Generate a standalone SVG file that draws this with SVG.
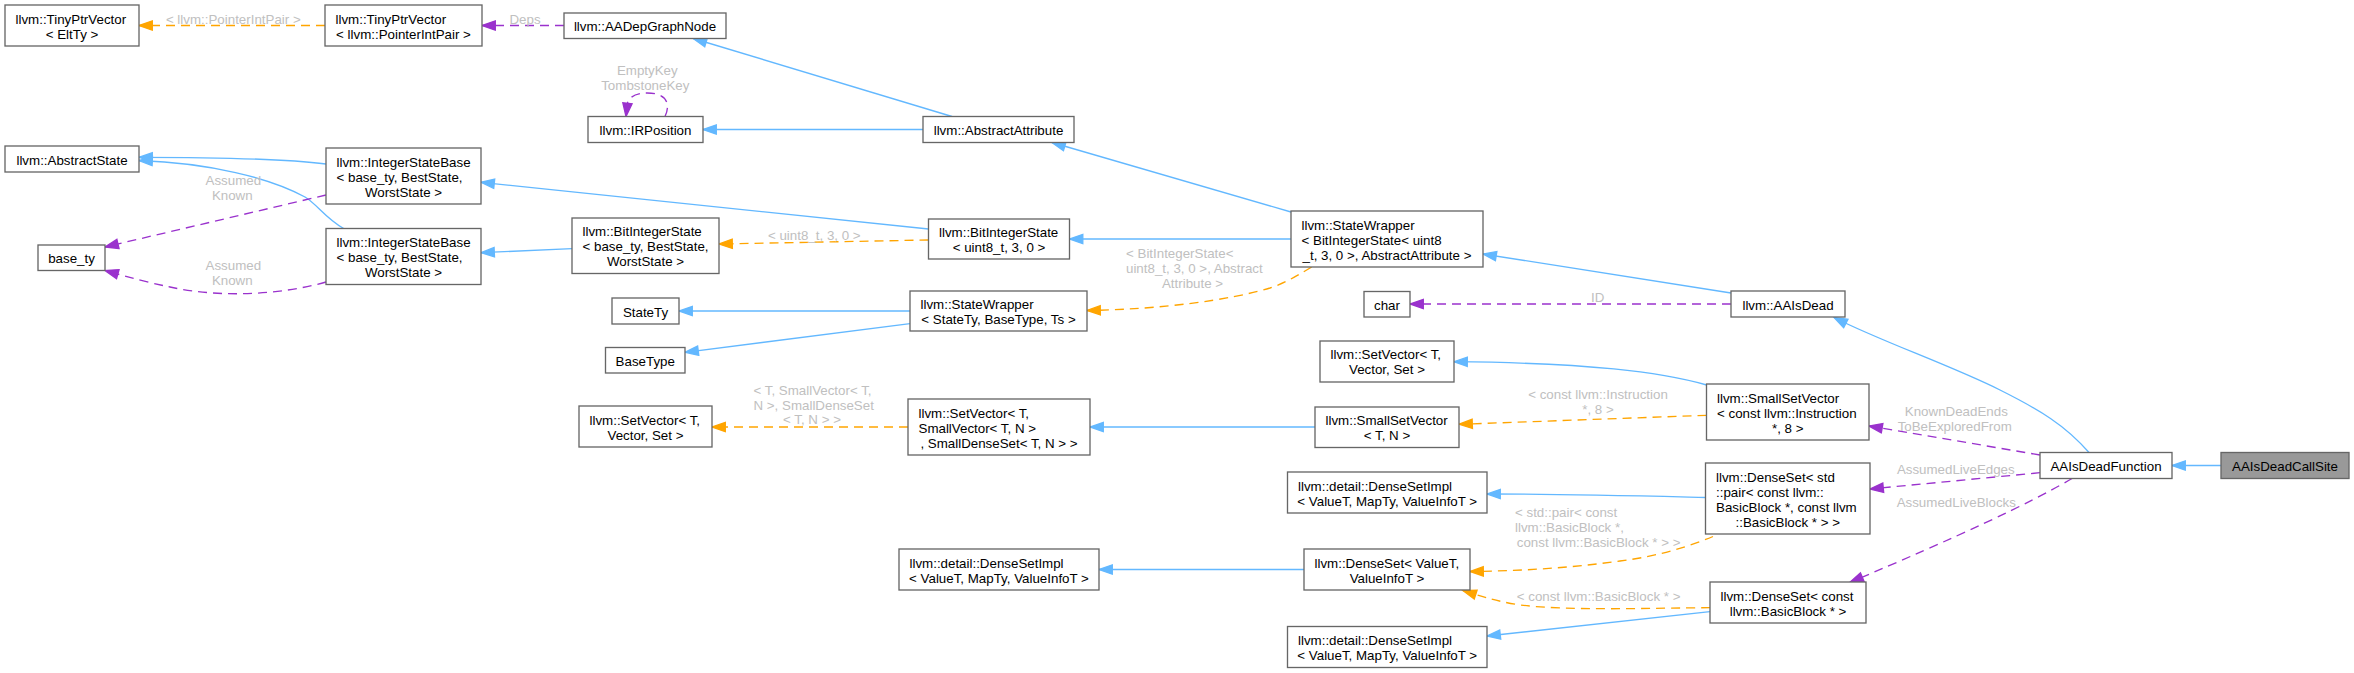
<svg xmlns="http://www.w3.org/2000/svg" width="2354" height="673" viewBox="0 0 2354 673">
<style>
.n rect{fill:#ffffff;stroke:#666666;stroke-width:1.33}
.cur rect{fill:#999999}
text{font-family:"Liberation Sans",Arial,Helvetica,sans-serif;font-size:13.33px;fill:#000000}
.m{text-anchor:middle}
.e path{fill:none;stroke-width:1.33}
.inh{stroke:#63b8ff}
.tpl{stroke:#ffa500;stroke-dasharray:9,6}
.use{stroke:#9a32cd;stroke-dasharray:9,6}
.e text{fill:#c0c0c0}
</style>
<defs>
<marker id="ab" viewBox="0 0 14 10" markerWidth="14" markerHeight="10" refX="13.3" refY="5" orient="auto" markerUnits="userSpaceOnUse" overflow="visible"><path d="M0,0.33L13.3,5L0,9.67z" fill="#63b8ff" stroke="#63b8ff" stroke-width="1.33" stroke-dasharray="none"/></marker>
<marker id="ao" viewBox="0 0 14 10" markerWidth="14" markerHeight="10" refX="13.3" refY="5" orient="auto" markerUnits="userSpaceOnUse" overflow="visible"><path d="M0,0.33L13.3,5L0,9.67z" fill="#ffa500" stroke="#ffa500" stroke-width="1.33" stroke-dasharray="none"/></marker>
<marker id="ap" viewBox="0 0 14 10" markerWidth="14" markerHeight="10" refX="13.3" refY="5" orient="auto" markerUnits="userSpaceOnUse" overflow="visible"><path d="M0,0.33L13.3,5L0,9.67z" fill="#9a32cd" stroke="#9a32cd" stroke-width="1.33" stroke-dasharray="none"/></marker>
</defs>
<rect x="0" y="0" width="2354" height="673" fill="#ffffff"/>
<g id="edges" class="e">
<path class="tpl" d="M325,25.5L139,25.5" marker-end="url(#ao)"/>
<text class="m" x="233.3" y="23.5">&lt; llvm::PointerIntPair &gt;</text>
<path class="use" d="M564,25.5L482,25.5" marker-end="url(#ap)"/>
<text class="m" x="525" y="23.5">Deps</text>
<path class="inh" d="M952,116.5L693.3,38.5" marker-end="url(#ab)"/>
<path class="inh" d="M923,129.5L703,129.5" marker-end="url(#ab)"/>
<path class="use" d="M665,116.5C670,106 669,93 647,93C636,93 629,97 627.5,103L626,116.5" marker-end="url(#ap)"/>
<text class="m" x="647.3" y="75">EmptyKey</text>
<text class="m" x="645.3" y="90">TombstoneKey</text>
<path class="tpl" d="M928.5,240L719,244" marker-end="url(#ao)"/>
<text class="m" x="814.3" y="239.5">&lt; uint8_t, 3, 0 &gt;</text>
<path class="inh" d="M928.5,229L481,182.3" marker-end="url(#ab)"/>
<path class="inh" d="M572,248.7L481,252.7" marker-end="url(#ab)"/>
<path class="inh" d="M326,164C290,159.5 230,157.3 139,157.3" marker-end="url(#ab)"/>
<path class="inh" d="M343.7,228.5C325,218 318,205 305,197C270,178 210,163 139,160.5" marker-end="url(#ab)"/>
<path class="use" d="M326,195L105,247" marker-end="url(#ap)"/>
<text class="m" x="233.3" y="185">Assumed</text>
<text class="m" x="232.3" y="200">Known</text>
<path class="use" d="M326,282C280,295 220,298 170,287C150,283 128,277 105,270.5" marker-end="url(#ap)"/>
<text class="m" x="233.3" y="269.5">Assumed</text>
<text class="m" x="232.3" y="284.5">Known</text>
<path class="inh" d="M1291,239L1069.5,239" marker-end="url(#ab)"/>
<path class="inh" d="M1291,212L1052,142.5" marker-end="url(#ab)"/>
<path class="tpl" d="M1311.7,267C1295,277 1285,283 1270,288C1230,300 1160,309.5 1087,310.5" marker-end="url(#ao)"/>
<text x="1126" y="257.5">&lt; BitIntegerState&lt;</text>
<text x="1126" y="272.5">uint8_t, 3, 0 &gt;, Abstract</text>
<text class="m" x="1192.5" y="287.5">Attribute &gt;</text>
<path class="inh" d="M1731,293L1483,254" marker-end="url(#ab)"/>
<path class="use" d="M1731,304L1410,304" marker-end="url(#ap)"/>
<text class="m" x="1597.7" y="301.5">ID</text>
<path class="inh" d="M1706.7,385C1660,372 1590,363 1454,361.7" marker-end="url(#ab)"/>
<path class="tpl" d="M1706.5,415.3L1459,424.3" marker-end="url(#ao)"/>
<text class="m" x="1598" y="399">&lt; const llvm::Instruction</text>
<text class="m" x="1598" y="414">*, 8 &gt;</text>
<path class="inh" d="M1315,427L1090,427" marker-end="url(#ab)"/>
<path class="tpl" d="M908,427L712,427" marker-end="url(#ao)"/>
<text x="753.5" y="394.5">&lt; T, SmallVector&lt; T,</text>
<text x="753.5" y="409.5">N &gt;, SmallDenseSet</text>
<text class="m" x="812" y="424">&lt; T, N &gt; &gt;</text>
<path class="inh" d="M2089,452.5C2065,425 2040,410 2000,390C1950,365 1880,341 1834,317.5" marker-end="url(#ab)"/>
<path class="use" d="M2040,455L1869,426" marker-end="url(#ap)"/>
<text class="m" x="1956.3" y="415.5">KnownDeadEnds</text>
<text class="m" x="1954.7" y="430.5">ToBeExploredFrom</text>
<path class="use" d="M2040,472.7L1870,489" marker-end="url(#ap)"/>
<text class="m" x="1955.8" y="474">AssumedLiveEdges</text>
<path class="use" d="M2072,478.5Q2010,515 1850,582.3" marker-end="url(#ap)"/>
<text class="m" x="1956.3" y="507">AssumedLiveBlocks</text>
<path class="inh" d="M2221,465.5L2172,465.5" marker-end="url(#ab)"/>
<path class="inh" d="M1705.5,497.5C1640,496 1560,494 1487,494" marker-end="url(#ab)"/>
<path class="tpl" d="M1713,536.5C1690,546 1660,556 1620,561C1570,568 1520,571 1470,571.5" marker-end="url(#ao)"/>
<text x="1515" y="516.5">&lt; std::pair&lt; const</text>
<text x="1515" y="531.5">llvm::BasicBlock *,</text>
<text class="m" x="1598.6" y="546.5">const llvm::BasicBlock * &gt; &gt;</text>
<path class="inh" d="M1304,569.5L1099,569.5" marker-end="url(#ab)"/>
<path class="tpl" d="M1710,607.7C1650,608 1570,611 1520,605C1500,602 1483,597 1463,590.5" marker-end="url(#ao)"/>
<text class="m" x="1598.6" y="600.5">&lt; const llvm::BasicBlock * &gt;</text>
<path class="inh" d="M1710,611.7L1487,636" marker-end="url(#ab)"/>
<path class="inh" d="M910,311L679,311" marker-end="url(#ab)"/>
<path class="inh" d="M910,323.7L685,352.3" marker-end="url(#ab)"/>
</g>
<g id="n_tinyptrvector_eltty" class="n"><rect x="5" y="5" width="134" height="41"/><text x="15.5" y="23.5">llvm::TinyPtrVector</text><text class="m" x="72" y="38.5">&lt; EltTy &gt;</text></g>
<g id="n_tinyptrvector_pointerintpair" class="n"><rect x="325" y="5" width="157" height="41"/><text x="335.5" y="23.5">llvm::TinyPtrVector</text><text class="m" x="403.5" y="38.5">&lt; llvm::PointerIntPair &gt;</text></g>
<g id="n_aadepgraphnode" class="n"><rect x="564" y="13" width="162" height="25.5"/><text class="m" x="645" y="31">llvm::AADepGraphNode</text></g>
<g id="n_irposition" class="n"><rect x="588" y="116.5" width="115" height="26"/><text class="m" x="645.5" y="135">llvm::IRPosition</text></g>
<g id="n_abstractattribute" class="n"><rect x="923" y="116.5" width="151" height="26"/><text class="m" x="998.5" y="135">llvm::AbstractAttribute</text></g>
<g id="n_abstractstate" class="n"><rect x="5" y="146" width="134" height="26"/><text class="m" x="72" y="164.5">llvm::AbstractState</text></g>
<g id="n_integerstatebase_1" class="n"><rect x="326" y="148" width="155" height="56"/><text x="336.5" y="166.5">llvm::IntegerStateBase</text><text x="336.5" y="181.5">&lt; base_ty, BestState,</text><text class="m" x="403.5" y="196.5">WorstState &gt;</text></g>
<g id="n_integerstatebase_2" class="n"><rect x="326" y="228.5" width="155" height="56"/><text x="336.5" y="247">llvm::IntegerStateBase</text><text x="336.5" y="262">&lt; base_ty, BestState,</text><text class="m" x="403.5" y="277">WorstState &gt;</text></g>
<g id="n_base_ty" class="n"><rect x="38" y="245" width="67" height="25.5"/><text class="m" x="71.5" y="263">base_ty</text></g>
<g id="n_bitintegerstate_base" class="n"><rect x="572" y="218" width="147" height="55.5"/><text x="582.5" y="235.5">llvm::BitIntegerState</text><text x="582.5" y="250.5">&lt; base_ty, BestState,</text><text class="m" x="645.5" y="265.5">WorstState &gt;</text></g>
<g id="n_bitintegerstate_uint8" class="n"><rect x="928.5" y="219" width="141" height="40"/><text x="939" y="236.5">llvm::BitIntegerState</text><text class="m" x="999" y="251.5">&lt; uint8_t, 3, 0 &gt;</text></g>
<g id="n_statewrapper_bis" class="n"><rect x="1291" y="211" width="192" height="56"/><text x="1301.5" y="229.5">llvm::StateWrapper</text><text x="1301.5" y="244.5">&lt; BitIntegerState&lt; uint8</text><text class="m" x="1387" y="259.5">_t, 3, 0 &gt;, AbstractAttribute &gt;</text></g>
<g id="n_statety" class="n"><rect x="612" y="298" width="67" height="26"/><text class="m" x="645.5" y="316.5">StateTy</text></g>
<g id="n_basetype" class="n"><rect x="605.5" y="347.5" width="79.5" height="25.5"/><text class="m" x="645.25" y="365.5">BaseType</text></g>
<g id="n_statewrapper_generic" class="n"><rect x="910" y="291" width="177" height="40"/><text x="920.5" y="308.5">llvm::StateWrapper</text><text class="m" x="998.5" y="323.5">&lt; StateTy, BaseType, Ts &gt;</text></g>
<g id="n_char" class="n"><rect x="1364" y="291.5" width="46" height="25.5"/><text class="m" x="1387" y="309.5">char</text></g>
<g id="n_aaisdead" class="n"><rect x="1731" y="291" width="114" height="26"/><text class="m" x="1788" y="309.5">llvm::AAIsDead</text></g>
<g id="n_setvector_right" class="n"><rect x="1320" y="341" width="134" height="41"/><text x="1330.5" y="359">llvm::SetVector&lt; T,</text><text class="m" x="1387" y="374">Vector, Set &gt;</text></g>
<g id="n_smallsetvector_instr" class="n"><rect x="1706.5" y="384" width="162.5" height="56"/><text x="1717" y="402.5">llvm::SmallSetVector</text><text x="1717" y="417.5">&lt; const llvm::Instruction</text><text class="m" x="1787.75" y="432.5">*, 8 &gt;</text></g>
<g id="n_smallsetvector_tn" class="n"><rect x="1315" y="407" width="144" height="40.5"/><text x="1325.5" y="424.5">llvm::SmallSetVector</text><text class="m" x="1387" y="439.5">&lt; T, N &gt;</text></g>
<g id="n_setvector_smallvector" class="n"><rect x="908" y="399" width="182" height="56"/><text x="918.5" y="417.5">llvm::SetVector&lt; T,</text><text x="918.5" y="432.5">SmallVector&lt; T, N &gt;</text><text class="m" x="999" y="447.5">, SmallDenseSet&lt; T, N &gt; &gt;</text></g>
<g id="n_setvector_left" class="n"><rect x="579" y="406" width="133" height="41"/><text x="589.5" y="424.5">llvm::SetVector&lt; T,</text><text class="m" x="645.5" y="439.5">Vector, Set &gt;</text></g>
<g id="n_aaisdeadfunction" class="n"><rect x="2040" y="452.5" width="132" height="26"/><text class="m" x="2106" y="471">AAIsDeadFunction</text></g>
<g id="n_aaisdeadcallsite" class="n cur"><rect x="2221" y="452.5" width="128" height="26"/><text class="m" x="2285" y="471">AAIsDeadCallSite</text></g>
<g id="n_densesetimpl_1" class="n"><rect x="1287.5" y="472" width="199.5" height="41"/><text x="1298" y="490.5">llvm::detail::DenseSetImpl</text><text class="m" x="1387.25" y="505.5">&lt; ValueT, MapTy, ValueInfoT &gt;</text></g>
<g id="n_denseset_pair" class="n"><rect x="1705.5" y="463" width="164.5" height="71"/><text x="1716" y="481.5">llvm::DenseSet&lt; std</text><text x="1716" y="496.5">::pair&lt; const llvm::</text><text x="1716" y="511.5">BasicBlock *, const llvm</text><text class="m" x="1787.75" y="526.5">::BasicBlock * &gt; &gt;</text></g>
<g id="n_densesetimpl_2" class="n"><rect x="899" y="549" width="200" height="41"/><text x="909.5" y="567.5">llvm::detail::DenseSetImpl</text><text class="m" x="999" y="582.5">&lt; ValueT, MapTy, ValueInfoT &gt;</text></g>
<g id="n_denseset_valuet" class="n"><rect x="1304" y="549" width="166" height="41"/><text x="1314.5" y="567.5">llvm::DenseSet&lt; ValueT,</text><text class="m" x="1387" y="582.5">ValueInfoT &gt;</text></g>
<g id="n_denseset_bb" class="n"><rect x="1710" y="582" width="156" height="41"/><text x="1720.5" y="600.5">llvm::DenseSet&lt; const</text><text class="m" x="1788" y="615.5">llvm::BasicBlock * &gt;</text></g>
<g id="n_densesetimpl_3" class="n"><rect x="1287.5" y="626.5" width="199.5" height="41"/><text x="1298" y="645">llvm::detail::DenseSetImpl</text><text class="m" x="1387.25" y="660">&lt; ValueT, MapTy, ValueInfoT &gt;</text></g>
</svg>
